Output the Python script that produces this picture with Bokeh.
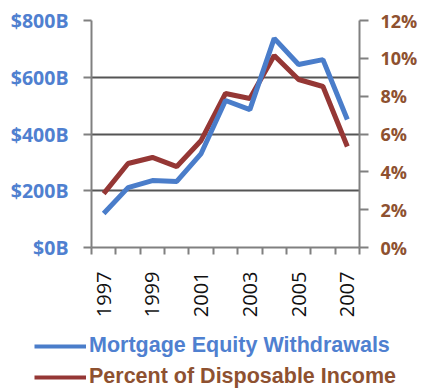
from bokeh.plotting import figure
from bokeh.models import Range1d, LinearAxis, FixedTicker, Legend, LegendItem
from bokeh.layouts import column
from bokeh.embed import file_html
from bokeh.resources import INLINE
import math

years = [1997, 1998, 1999, 2000, 2001, 2002, 2003, 2004, 2005, 2006, 2007]
mew_billions = [120, 211, 236, 233, 331, 518, 486, 737, 645, 662, 451]
pct_income = [2.85, 4.44, 4.76, 4.28, 5.66, 8.14, 7.88, 10.15, 8.88, 8.51, 5.34]
left_ticks = [0, 200, 400, 600, 800]
left_labels = ["$0B", "$200B", "$400B", "$600B", "$800B"]
right_ticks = [0, 2, 4, 6, 8, 10, 12]
right_labels = ["0%", "2%", "4%", "6%", "8%", "10%", "12%"]
label_years = [1997, 1999, 2001, 2003, 2005, 2007]
series_names = ["Mortgage Equity Withdrawals", "Percent of Disposable Income"]

BLUE_LINE = "#4A7DCA"
RED_LINE = "#953735"
BLUE_TEXT = "#4F80D0"
BROWN_TEXT = "#8E5130"
AXIS_C = "#808080"
GRID_C = "#555555"

p = figure(width=422, height=333, output_backend="svg", toolbar_location=None,
           x_range=Range1d(years[0] - 0.5, years[-1] + 0.5),
           y_range=Range1d(0, 800),
           min_border_left=91, min_border_right=63, min_border_top=20, min_border_bottom=86)
p.outline_line_color = None
p.background_fill_color = "white"
p.border_fill_color = "white"
p.extra_y_ranges = {"pct": Range1d(0, 12)}
p.frame_align = False

# x axis
xa = p.xaxis[0]
xa.ticker = FixedTicker(ticks=label_years, minor_ticks=[y - 0.5 for y in years] + [years[-1] + 0.5])
xa.major_tick_out = 0
xa.major_tick_in = 0
xa.minor_tick_out = 7
xa.minor_tick_in = 0
xa.minor_tick_line_color = AXIS_C
xa.minor_tick_line_width = 2
xa.axis_line_color = AXIS_C
xa.axis_line_width = 2
xa.major_label_orientation = math.pi / 2
xa.major_label_standoff = 17
xa.major_label_text_font = "Open Sans"
xa.major_label_text_font_size = "20px"
xa.major_label_text_color = "#111111"

# left axis
ya = p.yaxis[0]
ya.ticker = FixedTicker(ticks=left_ticks)
ya.major_label_overrides = {t: l for t, l in zip(left_ticks, left_labels)}
ya.minor_tick_line_color = None
ya.major_tick_out = 8
ya.major_tick_in = 0
ya.major_tick_line_color = AXIS_C
ya.major_tick_line_width = 2
ya.axis_line_color = AXIS_C
ya.axis_line_width = 2
ya.major_label_standoff = 15
ya.major_label_text_font = "Open Sans"
ya.major_label_text_font_style = "bold"
ya.major_label_text_font_size = "19.5px"
ya.major_label_text_color = BLUE_TEXT

# right axis
ra = LinearAxis(y_range_name="pct")
ra.ticker = FixedTicker(ticks=right_ticks)
ra.major_label_overrides = {t: l for t, l in zip(right_ticks, right_labels)}
ra.minor_tick_line_color = None
ra.major_tick_out = 9
ra.major_tick_in = 0
ra.major_tick_line_color = AXIS_C
ra.major_tick_line_width = 2
ra.axis_line_color = AXIS_C
ra.axis_line_width = 2
ra.major_label_standoff = 12
ra.major_label_text_font = "Open Sans"
ra.major_label_text_font_style = "bold"
ra.major_label_text_font_size = "18px"
ra.major_label_text_color = BROWN_TEXT
p.add_layout(ra, "right")

p.xgrid.grid_line_color = None
p.ygrid.ticker = FixedTicker(ticks=left_ticks)
p.ygrid.grid_line_color = GRID_C
p.ygrid.grid_line_width = 2

p.line(years, pct_income, y_range_name="pct", line_color=RED_LINE, line_width=5)
p.line(years, mew_billions, line_color=BLUE_LINE, line_width=5)

# legend panel (series re-plotted outside its visible ranges; only the legend shows)
q = figure(width=422, height=58, output_backend="svg", toolbar_location=None,
           x_axis_type=None, y_axis_type=None, min_border=0,
           min_border_left=0, min_border_right=0, min_border_top=0, min_border_bottom=0,
           x_range=Range1d(0, 1), y_range=Range1d(0, 1))
q.frame_align = False
q.outline_line_color = None
q.xgrid.grid_line_color = None
q.ygrid.grid_line_color = None
lb = q.line(years, mew_billions, line_color=BLUE_LINE, line_width=4)
lr = q.line(years, pct_income, line_color=RED_LINE, line_width=4)

def make_legend(name, renderer, color, loc):
    lg = Legend(items=[LegendItem(label=name, renderers=[renderer])], location=loc,
                orientation="vertical")
    lg.background_fill_alpha = 0
    lg.border_line_color = None
    lg.padding = 0
    lg.margin = 0
    lg.spacing = 0
    lg.glyph_width = 52
    lg.glyph_height = 24
    lg.label_standoff = 3
    lg.label_text_font = "Liberation Sans"
    lg.label_text_font_style = "bold"
    lg.label_text_font_size = "21.5px"
    lg.label_text_color = color
    return lg

q.add_layout(make_legend(series_names[0], lb, BLUE_TEXT, (34, 33)), "center")
q.add_layout(make_legend(series_names[1], lr, BROWN_TEXT, (34, 2)), "center")

open("out.html", "w").write(file_html(column(p, q, spacing=0), INLINE))
